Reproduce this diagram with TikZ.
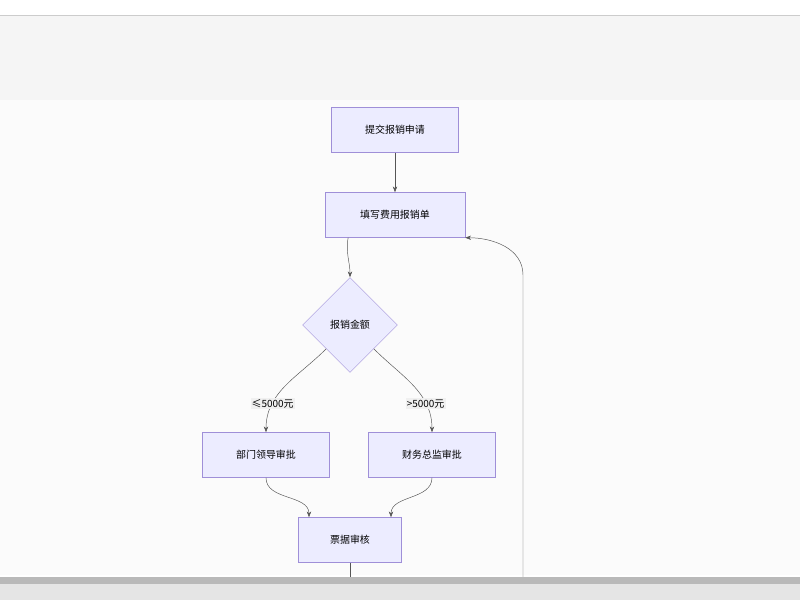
\documentclass[tikz,border=0pt]{standalone}
\usepackage{fontspec}
\setmainfont{Noto Sans CJK SC}
\usepackage{tikz}
\usetikzlibrary{shapes.geometric}
\usetikzlibrary{arrows.meta}
\definecolor{boxfill}{HTML}{ECECFF}
\definecolor{boxline}{HTML}{9F8FD8}
\definecolor{edge}{HTML}{555555}
\tikzset{
  stage/.style={draw=boxline, fill=boxfill, rectangle, minimum height=1.35cm, font=\fontsize{8.5}{9}\selectfont},
  check/.style={draw=boxline, fill=boxfill, diamond, aspect=1, minimum size=2.85cm, inner sep=0pt, font=\fontsize{8.5}{9}\selectfont},
  flow/.style={draw=edge, -{Stealth[length=5pt]}},
  cond/.style={fill=gray!12, inner sep=1pt, font=\fontsize{8.5}{9}\selectfont}
}
\begin{document}
\begin{tikzpicture}[x=0.03cm, y=-0.03cm]
\useasboundingbox (0,0) rectangle (800,600);
\fill[white] (0,0) rectangle (800,600);
\fill[gray!8] (0,15) rectangle (800,100);
\fill[gray!3] (0,100) rectangle (800,575);
\node[stage, minimum width=3.8cm] (submit) at (395,130) {提交报销申请};
\node[stage, minimum width=4.2cm] (fill) at (395,215) {填写费用报销单};
\node[check] (amount) at (350,325) {报销金额};
\node[stage, minimum width=3.8cm] (dept) at (266,455) {部门领导审批};
\node[stage, minimum width=3.8cm] (cfo) at (432,455) {财务总监审批};
\node[stage, minimum width=3.1cm] (bill) at (350,540) {票据审核};
\coordinate (cutA) at (350,578);
\coordinate (cutB) at (523,578);
\draw[flow] (submit) -- (fill);
\draw[flow] ([xshift=-40]fill.south) to[out=-100,in=90] (amount.north);
\draw[flow] (amount.south west) to[out=-135,in=90] node[cond, pos=0.72] {≤5000元} (dept.north);
\draw[flow] (amount.south east) to[out=-45,in=90] node[cond, pos=0.72] {>5000元} (cfo.north);
\draw[flow] (dept.south) to[out=-90,in=90] ([xshift=-35]bill.north);
\draw[flow] (cfo.south) to[out=-90,in=90] ([xshift=35]bill.north);
\draw[draw=edge] (bill) -- (cutA);
\draw[flow] (cutB) -- (523,275) to[out=90,in=0] (fill.south east);
\fill[gray!55] (0,577) rectangle (800,584);
\fill[gray!20] (0,584) rectangle (800,600);
\draw[gray!40] (0,15) -- (800,15);
\end{tikzpicture}
\end{document}
